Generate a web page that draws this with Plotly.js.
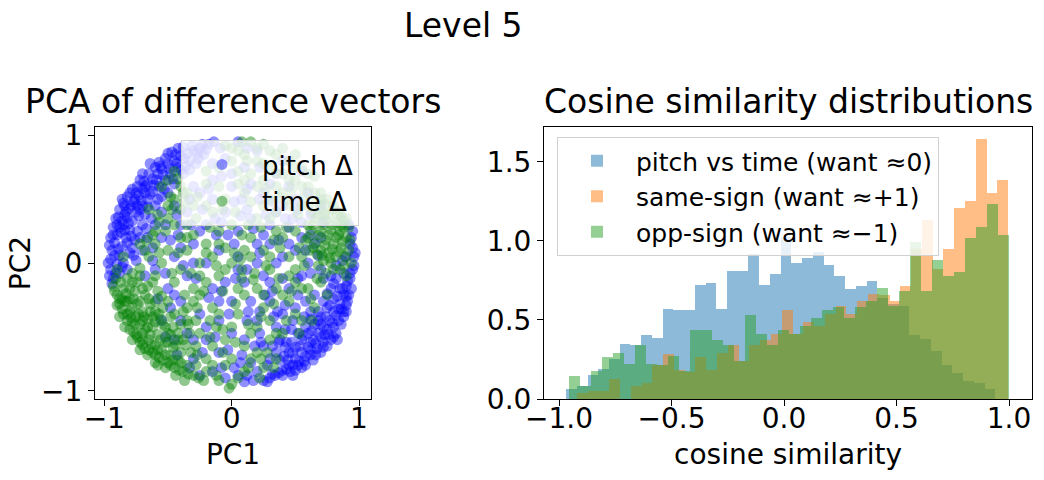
<!DOCTYPE html>
<html><head><meta charset="utf-8">
<script src="https://cdn.plot.ly/plotly-3.0.1.min.js"></script>
<style>html,body{margin:0;padding:0;background:#fff}#chart{width:1044px;height:480px}</style>
</head><body><div id="chart"></div>
<script>
// ---------- Scatter data (PCA of difference vectors), [PC1, PC2] ----------
const pitchDelta = [
[-0.18,0.93],[-0.25,0.9],[-0.3,0.88],[-0.22,0.85],[-0.35,0.86],[-0.4,0.84],[-0.33,0.8],[-0.45,0.8],[-0.28,0.78],[-0.5,0.78],
[-0.42,0.75],[-0.55,0.74],[-0.38,0.7],[-0.48,0.7],[-0.58,0.7],[-0.62,0.66],[-0.52,0.65],[-0.66,0.62],[-0.45,0.62],[-0.57,0.6],
[-0.7,0.58],[-0.62,0.56],[-0.73,0.53],[-0.66,0.5],[-0.55,0.52],[-0.77,0.48],[-0.7,0.45],[-0.8,0.43],[-0.6,0.45],[-0.75,0.4],
[-0.84,0.38],[-0.68,0.38],[-0.86,0.33],[-0.78,0.33],[-0.88,0.28],[-0.8,0.26],[-0.7,0.3],[-0.9,0.22],[-0.83,0.2],[-0.92,0.16],
[-0.86,0.13],[-0.76,0.18],[-0.94,0.1],[-0.88,0.06],[-0.95,0.03],[-0.9,-0.01],[-0.8,0.08],[-0.95,-0.05],[-0.88,-0.08],[-0.93,-0.12],
[-0.6,0.75],[-0.65,0.7],[-0.72,0.65],[-0.78,0.58],[-0.82,0.52],[-0.85,0.47],[-0.88,0.42],[-0.91,0.35],[-0.93,0.28],[-0.95,0.2],
[-0.52,0.82],[-0.47,0.87],[-0.42,0.9],[-0.57,0.79],[-0.74,0.6],[-0.8,0.55],[-0.68,0.55],[-0.76,0.5],[-0.84,0.45],[-0.72,0.42],
[-0.82,0.36],[-0.9,0.3],[-0.74,0.25],[-0.84,0.26],[-0.66,0.2],[-0.78,0.12],[-0.7,0.1],[-0.85,0.0],[-0.75,0.02],[-0.82,-0.05],
[-0.55,0.4],[-0.5,0.55],[-0.6,0.3],[-0.62,0.12],[-0.55,0.2],[-0.45,0.45],[-0.4,0.3],[-0.64,0.78],[-0.7,0.7],[-0.86,0.5],
[-0.14,0.95],[-0.2,0.89],[-0.27,0.86],[-0.31,0.92],[-0.37,0.82],[-0.43,0.78],[-0.36,0.76],[-0.49,0.74],[-0.54,0.69],[-0.61,0.61],
[-0.68,0.6],[-0.64,0.54],[-0.71,0.49],[-0.79,0.45],[-0.73,0.37],[-0.81,0.31],[-0.87,0.24],[-0.79,0.21],[-0.89,0.11],[-0.82,0.16],
[-0.92,0.06],[-0.86,-0.03],[-0.91,-0.08],[-0.77,0.06],[-0.72,0.2],[-0.67,0.27],[-0.63,0.35],[-0.58,0.5],[-0.53,0.58],[-0.46,0.66],
[-0.4,0.73],[-0.33,0.73],[-0.26,0.82],[-0.23,0.93],[-0.09,0.9],[-0.15,0.78],[-0.59,0.65],[-0.75,0.55],[-0.83,0.4],[-0.89,0.36],
[-0.93,0.22],[-0.96,0.14],[-0.69,0.64],[-0.56,0.76],[-0.44,0.85],[-0.5,0.86],[-0.38,0.91],[-0.74,0.45],[-0.66,0.44],[-0.85,0.3],
[0.95,-0.05],[0.93,-0.12],[0.9,-0.18],[0.94,-0.2],[0.88,-0.25],[0.91,-0.3],[0.85,-0.32],[0.88,-0.38],[0.8,-0.38],[0.84,-0.45],
[0.77,-0.45],[0.8,-0.5],[0.72,-0.5],[0.76,-0.56],[0.68,-0.55],[0.72,-0.62],[0.64,-0.6],[0.67,-0.67],[0.6,-0.66],[0.62,-0.72],
[0.55,-0.7],[0.57,-0.77],[0.5,-0.75],[0.52,-0.8],[0.45,-0.8],[0.46,-0.85],[0.4,-0.84],[0.4,-0.88],[0.34,-0.88],[0.3,-0.9],
[0.25,-0.92],[0.85,-0.2],[0.8,-0.28],[0.75,-0.35],[0.7,-0.42],[0.65,-0.48],[0.6,-0.55],[0.55,-0.6],[0.5,-0.66],[0.45,-0.7],
[0.38,-0.76],[0.82,-0.12],[0.78,-0.2],[0.72,-0.3],[0.68,-0.38],[0.62,-0.44],[0.58,-0.5],[0.52,-0.55],[0.47,-0.62],[0.42,-0.66],
[0.35,-0.7],[0.88,-0.42],[0.82,-0.55],[0.75,-0.65],[0.66,-0.72],[0.58,-0.8],[0.5,-0.84],[0.92,-0.25],[0.86,-0.48],[0.78,-0.6],
[0.7,-0.7],[0.96,0.05],[0.95,0.12],[0.94,0.2],[0.96,-0.02],[0.92,0.3],[0.9,0.05],[0.88,-0.08],[0.83,-0.6],[0.9,-0.33],
[0.93,-0.08],[0.91,-0.14],[0.87,-0.2],[0.9,-0.26],[0.86,-0.36],[0.82,-0.41],[0.79,-0.47],[0.75,-0.52],[0.7,-0.58],[0.66,-0.63],
[0.62,-0.68],[0.58,-0.73],[0.53,-0.77],[0.48,-0.8],[0.43,-0.83],[0.37,-0.86],[0.32,-0.87],[0.28,-0.93],[0.83,-0.26],[0.77,-0.33],
[0.74,-0.42],[0.7,-0.48],[0.63,-0.53],[0.56,-0.57],[0.54,-0.65],[0.48,-0.7],[0.41,-0.73],[0.44,-0.76],[0.8,-0.16],[0.75,-0.24],
[0.84,-0.36],[0.9,-0.38],[0.8,-0.58],[0.72,-0.66],[0.64,-0.76],[0.55,-0.82],[0.48,-0.88],[0.62,-0.62],[0.68,-0.45],[0.73,-0.56],
[0.3,-0.3],[0.2,-0.45],[0.35,-0.5],[0.1,-0.6],[0.25,-0.65],[0.15,-0.78],[0.05,-0.88],[-0.05,-0.9],[-0.15,-0.85],[0.3,-0.15],
[0.45,-0.2],[0.5,-0.35],[0.4,-0.4],[0.55,-0.1],[0.6,0.0],[0.7,-0.05],[0.65,0.15],[0.5,0.1],[0.4,0.05],[0.3,0.15],
[0.2,0.0],[0.1,-0.15],[0.0,-0.3],[-0.1,-0.45],[-0.2,-0.6],[-0.3,-0.75],[-0.25,-0.4],[-0.15,-0.2],[-0.35,-0.1],[-0.45,0.05],
[-0.3,0.15],[-0.2,0.3],[-0.1,0.1],[0.05,0.25],[0.15,0.35],[-0.05,0.4],[0.3,0.3],[0.45,0.28],[0.55,0.32],[-0.35,0.4],
[-0.25,0.55],[-0.15,0.65],[0.0,0.6],[0.1,0.75],[-0.05,0.82],[0.2,0.88],[0.05,0.95],[0.35,0.7],[0.25,0.55],[0.45,0.6],
[0.55,0.72],[0.6,0.55],[0.7,0.45],[0.4,0.45],[-0.4,-0.3],[-0.5,-0.2],[-0.6,-0.05],[-0.55,-0.45],[-0.45,-0.6],[-0.35,-0.55],
[-0.1,-0.7],[0.0,-0.55],[0.15,-0.3],[0.25,-0.1],[0.35,0.0],[0.65,-0.25],[0.2,-0.85],[0.1,-0.93],[-0.25,-0.88],[0.38,-0.6],
[0.28,-0.8],[-0.05,-0.15],[0.05,0.05],[-0.2,0.0],[0.12,-0.45],[0.08,0.5],[-0.12,0.22],[-0.96,-0.1],[-0.97,0.0],[-0.94,-0.16],
[0.95,0.25],[0.93,0.15],[0.97,0.08],[0.87,0.02],[0.58,-0.3],[0.48,-0.45],[0.42,-0.52],[0.32,-0.65],[0.22,-0.55],[0.18,-0.65],
[0.08,-0.72],[0.02,-0.82],[-0.08,-0.82],[0.12,-0.88],[0.3,-0.75],[0.36,-0.38],[0.26,-0.25],[0.4,-0.12],[0.52,-0.25],[0.62,-0.08],
[0.7,0.2],[0.55,0.2],[0.45,0.15],[0.35,0.4],[0.2,0.15],[0.05,-0.05],[-0.1,-0.3],[-0.2,-0.5],[-0.3,-0.6],[-0.4,-0.45],
[-0.45,-0.25],[-0.3,0.0],[-0.4,0.12],[-0.25,0.25],[-0.08,0.32],[0.12,0.42],[0.25,0.22],[0.02,0.15],[-0.15,0.5],[-0.3,0.6],
[0.0,0.7],[0.15,0.62],[0.3,0.62],[0.22,0.75],[0.4,0.8],[0.5,0.5],[0.62,0.38],[0.12,0.9],[-0.02,-0.4],[0.22,-0.38],
[0.12,-0.05],[0.22,0.08],[0.32,-0.22],[0.42,-0.33],[0.52,-0.12],[0.62,-0.38],[0.72,-0.12],[0.82,-0.02],[0.58,0.1],[0.48,0.35],
[0.37,0.18],[0.27,0.38],[0.17,0.27],[0.07,0.37],[-0.03,0.22],[-0.13,0.35],[-0.23,0.42],[-0.33,0.5],[-0.43,0.38],[-0.52,0.3],
[-0.48,0.18],[-0.38,-0.02],[-0.28,-0.12],[-0.18,-0.27],[-0.08,-0.22],[0.03,-0.12],[0.13,-0.38],[0.23,-0.62],[0.33,-0.42],[0.43,-0.62],
[0.17,-0.92],[0.07,-0.78],[-0.03,-0.68],[-0.13,-0.58],[-0.23,-0.7],[-0.33,-0.82],[-0.43,-0.72],[-0.52,-0.58],[-0.48,-0.35],[-0.58,-0.28],
[-0.68,-0.1],[-0.62,0.02],[-0.52,-0.08],[-0.42,0.22],[-0.32,0.3],[-0.18,0.58],[-0.08,0.68],[0.02,0.48],[0.12,0.58],[0.22,0.5],
[0.32,0.48],[0.42,0.35],[0.52,0.42],[0.62,0.22],[0.72,0.32],[0.68,0.06],[0.78,-0.1],[0.57,-0.42],[0.47,-0.52],[0.37,-0.62]
];
const timeDelta = [
[-0.93,-0.18],[-0.9,-0.25],[-0.88,-0.32],[-0.85,-0.4],[-0.82,-0.45],[-0.8,-0.52],[-0.75,-0.56],[-0.72,-0.62],[-0.68,-0.67],[-0.62,-0.7],
[-0.57,-0.74],[-0.5,-0.78],[-0.45,-0.82],[-0.38,-0.85],[-0.3,-0.88],[-0.85,-0.2],[-0.8,-0.28],[-0.78,-0.35],[-0.75,-0.42],[-0.72,-0.48],
[-0.7,-0.55],[-0.65,-0.6],[-0.6,-0.64],[-0.55,-0.68],[-0.48,-0.72],[-0.42,-0.76],[-0.35,-0.8],[-0.76,-0.22],[-0.72,-0.3],[-0.7,-0.38],
[-0.66,-0.44],[-0.62,-0.5],[-0.58,-0.56],[-0.52,-0.62],[-0.46,-0.66],[-0.4,-0.7],[-0.68,-0.25],[-0.64,-0.32],[-0.6,-0.38],[-0.56,-0.44],
[-0.52,-0.5],[-0.48,-0.56],[-0.42,-0.6],[-0.36,-0.64],[-0.82,-0.12],[-0.74,-0.15],[-0.66,-0.18],[-0.58,-0.22],[-0.5,-0.3],[-0.45,-0.4],
[-0.4,-0.48],[-0.33,-0.55],[-0.78,-0.6],[-0.84,-0.5],[-0.88,-0.42],[-0.9,-0.33],[-0.66,-0.72],[-0.6,-0.78],[-0.52,-0.82],[-0.44,-0.88],
[-0.7,-0.45],[-0.76,-0.48],[-0.8,-0.38],[-0.74,-0.32],[-0.62,-0.42],[-0.68,-0.52],[-0.64,-0.56],[-0.56,-0.6],[-0.5,-0.55],[-0.54,-0.35],
[-0.9,-0.05],[-0.85,0.05],[-0.78,-0.08],[-0.72,-0.04],[-0.92,-0.22],[-0.86,-0.28],[-0.82,-0.3],[-0.78,-0.46],[-0.72,-0.68],[-0.58,-0.8],
[-0.55,0.6],[-0.48,0.52],[-0.42,0.66],[-0.5,0.45],[-0.58,0.38],[-0.65,0.42],[-0.45,0.72],[-0.38,0.55],[-0.62,0.22],[-0.68,0.1],
[-0.91,-0.12],[-0.87,-0.15],[-0.83,-0.24],[-0.86,-0.36],[-0.82,-0.4],[-0.79,-0.43],[-0.77,-0.54],[-0.74,-0.58],[-0.7,-0.64],[-0.65,-0.68],
[-0.6,-0.72],[-0.54,-0.76],[-0.48,-0.8],[-0.41,-0.84],[-0.34,-0.87],[-0.26,-0.9],[-0.8,-0.2],[-0.77,-0.28],[-0.73,-0.4],[-0.69,-0.42],
[-0.66,-0.5],[-0.63,-0.64],[-0.58,-0.68],[-0.52,-0.72],[-0.46,-0.76],[-0.4,-0.78],[-0.7,-0.2],[-0.65,-0.28],[-0.6,-0.3],[-0.57,-0.4],
[-0.54,-0.48],[-0.5,-0.62],[-0.44,-0.64],[-0.38,-0.6],[-0.32,-0.7],[-0.28,-0.8],[-0.64,-0.38],[-0.6,-0.46],[-0.46,-0.5],[-0.42,-0.55],
[-0.78,-0.15],[-0.72,-0.1],[-0.62,-0.15],[-0.55,-0.26],[-0.48,-0.42],[-0.38,-0.38],[-0.34,-0.48],[-0.88,-0.28],[-0.84,-0.3],[-0.7,-0.6],
[0.9,0.35],[0.85,0.4],[0.8,0.45],[0.75,0.5],[0.88,0.28],[0.82,0.32],[0.76,0.38],[0.7,0.42],[0.9,0.2],[0.84,0.22],
[0.78,0.26],[0.72,0.3],[0.66,0.35],[0.86,0.12],[0.8,0.15],[0.74,0.18],[0.68,0.22],[0.62,0.26],[0.82,0.05],[0.76,0.08],
[0.7,0.1],[0.64,0.12],[0.58,0.18],[0.92,0.1],[0.94,0.0],[0.9,-0.1],[0.85,-0.05],[0.78,0.0],[0.72,0.02],[0.86,0.3],
[0.92,0.28],[0.88,0.33],[0.83,0.38],[0.79,0.42],[0.73,0.46],[0.85,0.25],[0.79,0.3],[0.74,0.34],[0.68,0.38],[0.64,0.3],
[0.87,0.17],[0.82,0.2],[0.76,0.22],[0.7,0.25],[0.66,0.16],[0.6,0.2],[0.84,0.09],[0.79,0.11],[0.73,0.14],[0.67,0.07],
[0.61,0.1],[0.89,0.05],[0.93,0.18],[0.88,-0.02],[0.8,-0.05],[0.74,-0.08],[0.68,-0.02],[0.77,0.04],[0.71,0.06],[0.86,0.36],
[0.6,0.6],[0.7,0.55],[0.5,0.65],[0.4,0.7],[0.3,0.75],[0.2,0.8],[0.1,0.85],[0.0,0.9],[0.15,0.95],[0.3,0.88],
[0.45,0.8],[0.55,0.75],[0.65,0.68],[0.35,0.6],[0.25,0.65],[0.15,0.7],[0.05,0.72],[-0.1,0.75],[-0.2,0.72],[0.45,0.5],
[0.55,0.45],[0.25,0.45],[0.1,0.55],[0.4,0.9],[0.25,0.93],[0.5,0.85],[0.6,0.45],[0.35,0.4],[0.05,0.62],[-0.05,0.5],
[0.65,0.55],[0.55,0.6],[0.45,0.65],[0.35,0.7],[0.25,0.78],[0.12,0.8],[0.05,0.88],[0.2,0.9],[0.35,0.85],[0.5,0.75],
[0.6,0.7],[0.7,0.5],[0.4,0.55],[0.3,0.5],[0.2,0.6],[0.1,0.65],[0.0,0.8],[-0.05,0.92],[0.08,0.95],[0.45,0.45],
[0.52,0.38],[0.3,0.35],[0.15,0.48],[-0.1,0.6],[-0.2,0.62],
[0.0,0.0],[-0.1,-0.1],[0.1,0.1],[0.2,-0.2],[-0.2,0.15],[-0.3,-0.2],[0.3,-0.05],[0.4,0.2],[-0.4,0.2],[0.05,-0.4],
[-0.15,-0.35],[0.25,-0.35],[0.45,-0.3],[0.15,-0.55],[-0.05,-0.6],[-0.2,-0.75],[0.0,-0.75],[0.2,-0.7],[0.35,-0.75],[0.1,-0.85],
[-0.1,-0.92],[0.0,-0.95],[0.22,-0.9],[-0.25,-0.55],[-0.3,-0.3],[-0.45,-0.15],[-0.55,0.0],[-0.65,0.05],[-0.72,0.15],[-0.6,0.25],
[-0.5,0.35],[-0.45,0.5],[-0.5,0.65],[-0.4,0.6],[-0.3,0.45],[-0.15,0.4],[-0.35,0.3],[-0.25,0.0],[0.15,0.2],[0.25,0.1],
[0.55,0.05],[0.5,-0.15],[0.6,-0.2],[0.65,-0.35],[0.55,-0.45],[0.4,-0.55],[0.3,-0.6],[0.6,0.3],[0.5,0.25],[0.35,0.25],
[0.2,0.35],[0.0,0.3],[-0.1,0.25],[-0.05,0.12],[0.1,-0.25],[-0.35,-0.45],[-0.2,-0.15],[0.3,-0.45],[0.45,-0.1],[0.7,-0.15],
[0.75,-0.25],[-0.6,-0.1],[-0.35,0.1],[0.08,-0.12],[-0.12,-0.5],[0.18,-0.08],[0.38,0.12],[-0.28,-0.65],[-0.15,-0.8],[-0.25,-0.25],
[-0.05,-0.05],[0.05,-0.2],[0.15,0.05],[0.25,-0.25],[-0.15,0.05],[-0.25,-0.1],[0.35,-0.2],[0.45,0.05],[-0.35,0.2],[0.0,-0.5],
[-0.1,-0.4],[0.2,-0.5],[0.4,-0.25],[0.1,-0.65],[-0.15,-0.65],[-0.05,-0.8],[0.15,-0.75],[0.28,-0.7],[0.05,-0.9],[-0.2,-0.85],
[-0.35,-0.35],[-0.4,-0.05],[-0.5,0.1],[-0.6,0.15],[-0.52,0.25],[-0.45,0.3],[-0.4,0.42],[-0.35,0.55],[-0.28,0.35],[-0.2,0.45],
[-0.1,0.15],[0.08,0.22],[0.3,0.05],[0.5,-0.05],[0.55,-0.2],[0.62,-0.28],[0.5,-0.4],[0.35,-0.55],[0.25,-0.82],[-0.28,-0.45],
[0.07,0.03],[0.17,-0.13],[0.27,-0.02],[0.37,-0.12],[0.47,-0.22],[0.57,-0.02],[0.67,-0.12],[0.63,-0.45],[0.53,-0.55],[0.43,-0.45],
[0.33,-0.32],[0.23,-0.42],[0.13,-0.48],[0.03,-0.32],[-0.07,-0.22],[-0.17,-0.45],[-0.27,-0.35],[-0.37,-0.25],[-0.47,-0.08],[-0.57,0.08],
[-0.67,0.18],[-0.57,0.32],[-0.47,0.42],[-0.37,0.48],[-0.27,0.52],[-0.17,0.28],[-0.07,0.42],[0.03,0.4],[0.13,0.3],[0.23,0.28],
[0.33,0.18],[0.43,0.28],[0.53,0.12],[0.63,0.4],[0.73,0.38],[0.67,0.48],[0.57,0.52],[0.47,0.58],[0.37,0.52],[0.27,0.58],
[-0.07,-0.52],[-0.17,-0.58],[-0.27,-0.72],[-0.07,-0.7],[0.03,-0.62],[0.13,-0.82],[0.23,-0.75],[0.33,-0.82],[-0.12,-0.88],[-0.22,-0.92],
[-0.37,-0.92],[-0.02,-0.98],[0.08,-0.05],[-0.12,-0.02],[-0.22,-0.22],[-0.32,-0.08],[-0.42,0.08],[-0.3,0.22],[-0.2,0.08],[0.02,0.08]
];

// ---------- Histogram data (density per bin, 40 bins each) ----------
const pitchVsTimeRange = [-0.969, 0.939];
const pitchVsTime = [0.063,0.08,0.15,0.19,0.25,0.35,0.34,0.407,0.386,0.57,
  0.562,0.562,0.719,0.735,0.57,0.808,0.808,0.92,0.724,0.793,
  1.025,0.861,0.892,0.93,0.85,0.776,0.698,0.717,0.749,0.64,
  0.60,0.59,0.407,0.382,0.306,0.213,0.165,0.112,0.101,0.065];
const sameSignRange = [-0.921, 0.996];
const sameSign = [0.038,0.049,0.049,0.127,0.0,0.08,0.10,0.213,0.287,0.186,
  0.169,0.264,0.186,0.29,0.34,0.24,0.34,0.37,0.414,0.565,
  0.41,0.49,0.46,0.54,0.59,0.54,0.62,0.665,0.66,0.618,
  0.717,0.95,1.129,0.825,0.951,1.205,1.255,1.641,1.304,1.382];
const oppSignRange = [-0.956, 1.0];
const oppSign = [0.148,0.08,0.175,0.268,0.293,0.224,0.342,0.224,0.217,0.27,
  0.175,0.439,0.439,0.37,0.34,0.24,0.534,0.414,0.34,0.439,
  0.41,0.46,0.51,0.56,0.58,0.51,0.58,0.62,0.70,0.586,
  0.68,0.994,0.68,0.876,0.776,0.80,1.02,1.09,1.234,1.04];

const leftXTicks = [-1, 0, 1], leftXText = ['−1', '0', '1'];
const leftYTicks = [-1, 0, 1], leftYText = ['−1', '0', '1'];
const rightXTicks = [-1, -0.5, 0, 0.5, 1], rightXText = ['−1.0', '−0.5', '0.0', '0.5', '1.0'];
const rightYTicks = [0, 0.5, 1, 1.5], rightYText = ['0.0', '0.5', '1.0', '1.5'];

function histTrace(name, range, counts, color) {
  const w = (range[1] - range[0]) / counts.length;
  return {
    type: 'bar', name: name, xaxis: 'x2', yaxis: 'y2', legend: 'legend2',
    x: counts.map((_, i) => range[0] + (i + 0.5) * w), y: counts, width: w,
    marker: {color: color, line: {width: 0}}, opacity: 0.5
  };
}

const FONT = 'DejaVu Sans, Liberation Sans, sans-serif';
const data = [
  {type: 'scatter', mode: 'markers', name: 'pitch Δ', x: pitchDelta.map(p => p[0]), y: pitchDelta.map(p => p[1]),
   marker: {color: 'rgb(0,0,255)', size: 11, opacity: 0.44, line: {width: 0}}, xaxis: 'x', yaxis: 'y', legend: 'legend'},
  {type: 'scatter', mode: 'markers', name: 'time Δ', x: timeDelta.map(p => p[0]), y: timeDelta.map(p => p[1]),
   marker: {color: 'rgb(0,128,0)', size: 11, opacity: 0.44, line: {width: 0}}, xaxis: 'x', yaxis: 'y', legend: 'legend'},
  histTrace('pitch vs time (want ≈0)', pitchVsTimeRange, pitchVsTime, '#1f77b4'),
  histTrace('same-sign (want ≈+1)', sameSignRange, sameSign, '#ff7f0e'),
  histTrace('opp-sign (want ≈−1)', oppSignRange, oppSign, '#2ca02c')
];

const axisCommon = {showline: true, mirror: true, linecolor: '#000', linewidth: 1, ticks: 'outside', ticklen: 6,
  tickwidth: 1, tickcolor: '#000', showgrid: false, zeroline: false, tickfont: {size: 28, color: '#000'}, tickmode: 'array'};

const layout = {
  width: 1044, height: 480, margin: {l: 0, r: 0, t: 0, b: 0}, paper_bgcolor: '#fff', plot_bgcolor: '#fff',
  font: {family: FONT, color: '#000'}, barmode: 'overlay', bargap: 0,
  xaxis: Object.assign({}, axisCommon, {domain: [95/1044, 371/1044], range: [-1.073, 1.094], tickvals: leftXTicks, ticktext: leftXText,
    ticklabelstandoff: -12, title: {text: 'PC1', font: {size: 28}, standoff: 10}, anchor: 'y'}),
  yaxis: Object.assign({}, axisCommon, {domain: [81/480, 353/480], range: [-1.065, 1.066], tickvals: leftYTicks, ticktext: leftYText,
    title: {text: 'PC2', font: {size: 28}, standoff: 2}, anchor: 'x'}),
  xaxis2: Object.assign({}, axisCommon, {domain: [544/1044, 1032/1044], range: [-1.067, 1.102], tickvals: rightXTicks, ticktext: rightXText,
    ticklabelstandoff: -12, title: {text: 'cosine similarity', font: {size: 28}, standoff: 10}, anchor: 'y2'}),
  yaxis2: Object.assign({}, axisCommon, {domain: [81/480, 353/480], range: [0, 1.72], tickvals: rightYTicks, ticktext: rightYText, anchor: 'x2'}),
  legend: {x: 181/1044, y: 340/480, xanchor: 'left', yanchor: 'top',
    bgcolor: 'rgba(255,255,255,0.8)', bordercolor: '#d0d0d0', borderwidth: 1, font: {size: 26}, itemwidth: 70},
  legend2: {x: 557/1044, y: 343/480, xanchor: 'left', yanchor: 'top',
    bgcolor: 'rgba(255,255,255,0.8)', bordercolor: '#d0d0d0', borderwidth: 1, font: {size: 25}, itemwidth: 68},
  annotations: [
    {text: 'Level 5', x: 463/1044, y: 1 - 25/480, xref: 'paper', yref: 'paper', showarrow: false, font: {size: 33}, xanchor: 'center', yanchor: 'middle'},
    {text: 'PCA of difference vectors', x: 233/1044, y: 1 - 101/480, xref: 'paper', yref: 'paper', showarrow: false, font: {size: 33}, xanchor: 'center', yanchor: 'middle'},
    {text: 'Cosine similarity distributions', x: 788/1044, y: 1 - 101/480, xref: 'paper', yref: 'paper', showarrow: false, font: {size: 33}, xanchor: 'center', yanchor: 'middle'}
  ],
  showlegend: true
};

Plotly.newPlot('chart', data, layout, {displayModeBar: false, staticPlot: true});
</script></body></html>
